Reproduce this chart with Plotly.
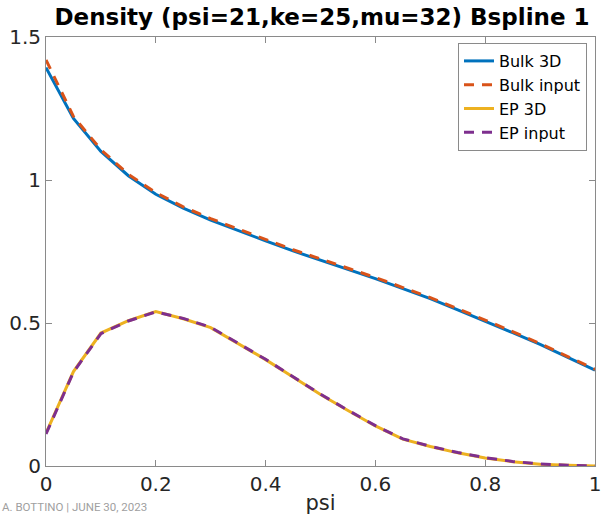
import plotly.graph_objects as go

psi = [0.0, 0.05, 0.1, 0.15, 0.2, 0.25, 0.3, 0.35, 0.4, 0.45, 0.5,
       0.55, 0.6, 0.65, 0.7, 0.75, 0.8, 0.85, 0.9, 0.95, 1.0]

bulk_3d = [1.393, 1.215, 1.100, 1.015, 0.950, 0.902, 0.860, 0.823, 0.787, 0.752, 0.720,
           0.688, 0.655, 0.620, 0.585, 0.546, 0.507, 0.466, 0.425, 0.380, 0.335]
bulk_input = [1.420, 1.222, 1.106, 1.020, 0.956, 0.906, 0.865, 0.828, 0.791, 0.756, 0.724,
              0.692, 0.659, 0.624, 0.589, 0.550, 0.511, 0.470, 0.428, 0.383, 0.338]
ep_3d = [0.115, 0.330, 0.465, 0.508, 0.540, 0.515, 0.484, 0.428, 0.372, 0.311, 0.250,
         0.194, 0.140, 0.094, 0.068, 0.046, 0.028, 0.015, 0.006, 0.003, 0.0]
ep_input = [0.112, 0.328, 0.463, 0.507, 0.539, 0.516, 0.485, 0.429, 0.373, 0.312, 0.251,
            0.195, 0.141, 0.095, 0.069, 0.047, 0.029, 0.016, 0.007, 0.003, 0.0]

x_ticks = [0, 0.2, 0.4, 0.6, 0.8, 1]
x_labels = ["0", "0.2", "0.4", "0.6", "0.8", "1"]
y_ticks = [0, 0.5, 1, 1.5]
y_labels = ["0", "0.5", "1", "1.5"]

title = "Density (psi=21,ke=25,mu=32) Bspline 1"
footer = "A. BOTTINO | JUNE 30, 2023"

FONT = "DejaVu Sans"
AX = "#8a8a8a"

fig = go.Figure()
fig.add_trace(go.Scatter(x=psi, y=bulk_3d, mode="lines", name="Bulk 3D",
                         line=dict(color="#0072BD", width=3)))
fig.add_trace(go.Scatter(x=psi, y=bulk_input, mode="lines", name="Bulk input",
                         line=dict(color="#D95319", width=3, dash="10px,8px")))
fig.add_trace(go.Scatter(x=psi, y=ep_3d, mode="lines", name="EP 3D",
                         line=dict(color="#EDB120", width=3)))
fig.add_trace(go.Scatter(x=psi, y=ep_input, mode="lines", name="EP input",
                         line=dict(color="#7E2F8E", width=3, dash="10px,8px")))

fig.update_layout(
    width=603, height=525,
    margin=dict(l=46, r=8, t=37, b=59, autoexpand=False),
    paper_bgcolor="white", plot_bgcolor="white",
    font=dict(family=FONT, color="#262626"),
    title=dict(text="<b>" + title + "</b>", x=0.534, xanchor="center",
               y=1 - 17 / 525, yanchor="middle",
               font=dict(family=FONT, size=23, color="#000000")),
    showlegend=True,
    legend=dict(x=(587 - 46) / 549, xref="paper", xanchor="right",
                y=1 - 6 / 429, yref="paper", yanchor="top",
                bgcolor="white", bordercolor=AX, borderwidth=1,
                font=dict(family=FONT, size=16, color="#000000"),
                tracegroupgap=0, itemwidth=30),
    xaxis=dict(range=[0, 1], tickvals=x_ticks, ticktext=x_labels,
               ticks="inside", ticklen=6, tickcolor=AX, showline=True,
               linecolor=AX, linewidth=1, mirror="ticks", showgrid=False,
               zeroline=False, tickfont=dict(size=20, color="#262626"),
               ticklabeloverflow="allow", automargin=False,
               title=dict(text="psi", font=dict(size=21, color="#262626"), standoff=0)),
    yaxis=dict(range=[0, 1.5], tickvals=y_ticks, ticktext=y_labels,
               ticks="inside", ticklen=6, tickcolor=AX, showline=True,
               linecolor=AX, linewidth=1, mirror="ticks", showgrid=False,
               zeroline=False, automargin=False,
               tickfont=dict(size=20, color="#262626")),
)

fig.add_annotation(text=footer, xref="paper", yref="paper",
                   x=-46 / 549, y=-(507 - 466) / 429, xanchor="left", yanchor="middle",
                   showarrow=False, font=dict(family="Roboto", size=11.5, color="#a0a0a0"))

fig.write_html("out.html", config={"displayModeBar": False},
               post_script="document.body.style.margin='0px';")
